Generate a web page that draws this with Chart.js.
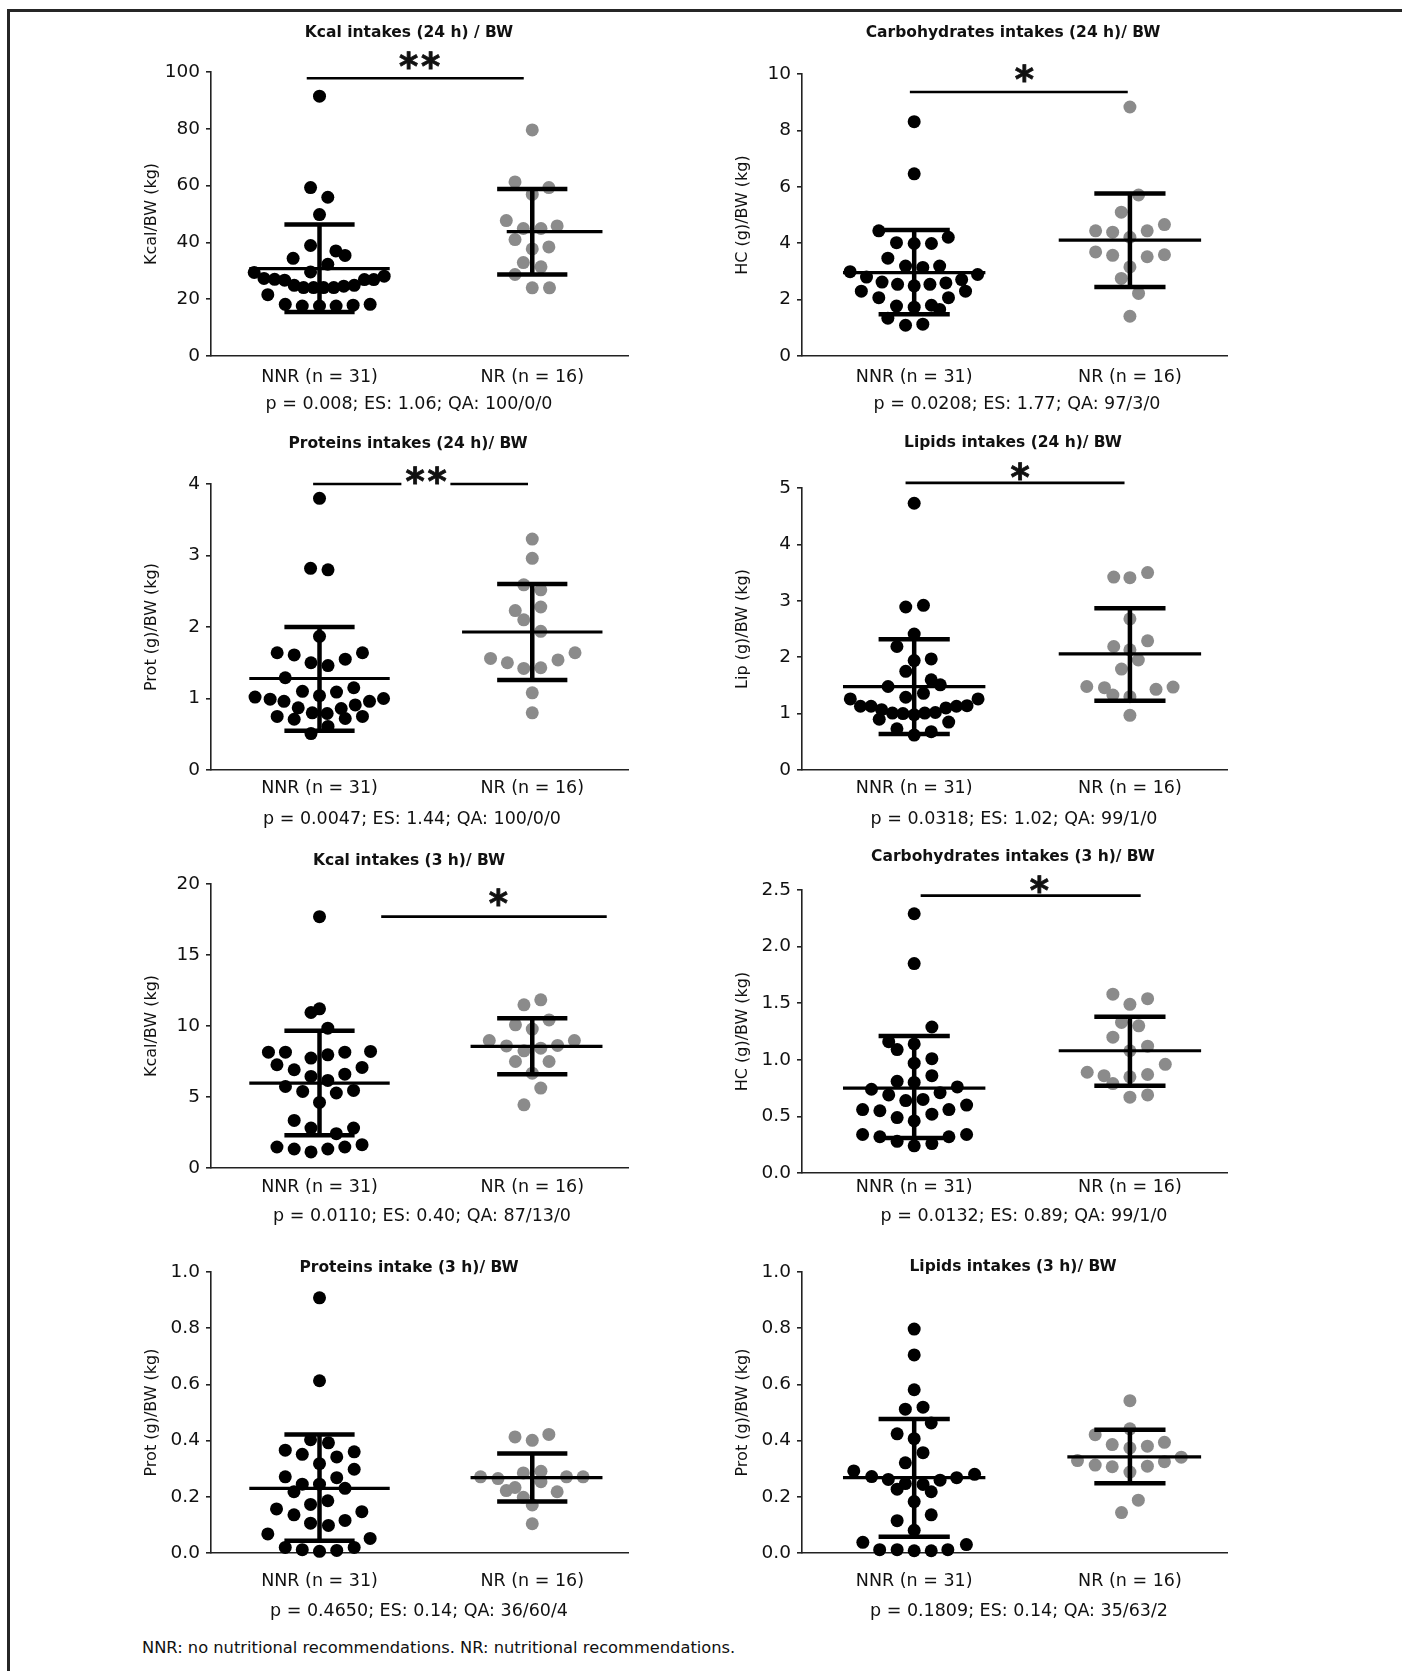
<!DOCTYPE html>
<html lang="en">
<head>
  <meta charset="UTF-8">
  <title>Intakes per body weight: NNR vs NR</title>
  <script src="https://cdn.jsdelivr.net/npm/chart.js"></script>
  <style>
    body { margin: 0; background: #fff; }
    #page {
      position: relative; width: 1402px; height: 1671px; overflow: hidden;
      font-family: 'DejaVu Sans', sans-serif; color: #111;
    }
    #frame {
      position: absolute; left: 7px; top: 9px; right: -20px; bottom: -20px;
      border-top: 3px solid #262626; border-left: 3px solid #262626;
    }
    canvas { position: absolute; }
    .title, .stat { position: absolute; transform: translate(-50%, -50%); white-space: nowrap; }
    .title { font-weight: bold; font-size: 15.5px; }
    .stat { font-size: 17.5px; }
    .note { position: absolute; left: 142px; top: 1647px; transform: translateY(-50%); font-size: 16.3px; white-space: nowrap; }
  </style>
</head>
<body>
<div id="page">
  <div id="frame"></div>
  <div class="note">NNR: no nutritional recommendations. NR: nutritional recommendations.</div>
</div>

<script>
  const groups = ['NNR (n = 31)', 'NR (n = 16)'];

  // every point: [horizontal jitter from group centre, value]
  // bars: [mean, mean - SD, mean + SD] for NNR, then NR
  // sig: [x from, x to, y]   star: [x, y]

  const kcal24NNR = [
    [0, 91.5], [-0.042, 59.3], [0.039, 55.9], [0, 49.8], [-0.042, 38.9], [-0.124, 34.4], [0.077, 37.0], [0.120, 35.4], [0.039, 32.3], [-0.042, 29.6],
    [-0.307, 29.4], [-0.261, 27.3], [-0.211, 27.0], [-0.164, 26.7], [-0.119, 24.9], [-0.075, 24.1], [-0.028, 24.1], [0.019, 24.1], [0.067, 24.1], [0.114, 24.6],
    [0.163, 24.9], [0.211, 26.9], [0.255, 26.9], [0.304, 28.1], [-0.243, 21.6], [-0.161, 18.2], [-0.081, 17.6], [0, 17.6], [0.078, 17.6], [0.158, 17.9], [0.238, 18.2]
  ];
  const kcal24NR = [
    [0, 79.6], [-0.081, 61.3], [0.078, 59.3], [0, 56.9], [-0.122, 47.7], [-0.042, 44.9], [0.041, 44.9], [0.117, 45.8], [-0.081, 41.0], [0, 37.7],
    [0.078, 38.4], [-0.042, 32.9], [0.041, 31.4], [-0.081, 28.7], [0, 24.0], [0.081, 24.0]
  ];
  const kcal24Bars = [[30.8, 15.5, 46.3], [43.8, 28.7, 58.8]];
  const kcal24Sig = [0.94, 1.96, 97.8];
  const kcal24Star = [1.47, 104.2];

  const carb24NNR = [
    [0, 8.31], [0, 6.46], [-0.164, 4.44], [-0.082, 4.02], [0, 3.99], [0.080, 3.99], [0.158, 4.21], [-0.122, 3.47], [-0.040, 3.19], [0.040, 3.14],
    [0.118, 3.19], [-0.297, 2.99], [0.294, 2.89], [-0.221, 2.80], [-0.149, 2.62], [-0.077, 2.54], [0, 2.49], [0.073, 2.54], [0.147, 2.59], [0.220, 2.71],
    [-0.245, 2.30], [0.238, 2.30], [-0.164, 2.07], [0.159, 2.07], [-0.082, 1.77], [0, 1.73], [0.080, 1.80], [0.118, 1.65], [-0.122, 1.34], [-0.040, 1.09], [0.040, 1.13]
  ];
  const carb24NR = [
    [0, 8.83], [0.040, 5.71], [-0.040, 5.10], [-0.159, 4.44], [-0.080, 4.39], [0, 4.21], [0.080, 4.44], [0.160, 4.66], [-0.159, 3.69], [-0.080, 3.57],
    [0.080, 3.52], [0.160, 3.59], [0, 3.16], [-0.040, 2.75], [0.040, 2.22], [0, 1.41]
  ];
  const carb24Bars = [[2.96, 1.48, 4.47], [4.11, 2.45, 5.76]];
  const carb24Sig = [0.98, 1.99, 9.36];
  const carb24Star = [1.51, 10.04];

  const prot24NNR = [
    [0, 3.80], [-0.042, 2.82], [0.040, 2.80], [0, 1.87], [-0.199, 1.64], [-0.119, 1.61], [-0.040, 1.50], [0.040, 1.46], [0.121, 1.55], [0.202, 1.64],
    [-0.161, 1.29], [-0.303, 1.02], [-0.232, 0.99], [-0.167, 0.96], [-0.080, 1.10], [0, 1.04], [0.080, 1.09], [0.161, 1.15], [0.235, 0.96], [0.301, 1.00],
    [-0.100, 0.87], [-0.034, 0.80], [0.036, 0.79], [0.102, 0.86], [0.168, 0.91], [-0.199, 0.75], [-0.119, 0.71], [0.121, 0.72], [0.202, 0.75], [0.040, 0.61], [-0.040, 0.51]
  ];
  const prot24NR = [
    [0, 3.23], [0, 2.96], [-0.040, 2.59], [0.040, 2.52], [-0.080, 2.23], [0.040, 2.28], [-0.040, 2.10], [0.040, 1.94], [-0.196, 1.56], [-0.117, 1.50],
    [-0.040, 1.42], [0.040, 1.43], [0.121, 1.54], [0.201, 1.64], [0, 1.08], [0, 0.80]
  ];
  const prot24Bars = [[1.28, 0.55, 2.00], [1.93, 1.26, 2.60]];
  const prot24Sig = [0.97, 1.98, 4.0];
  const prot24Star = [1.50, 4.12];

  const lip24NNR = [
    [0, 4.73], [-0.039, 2.89], [0.043, 2.92], [0, 2.41], [-0.080, 2.19], [0, 1.94], [0.079, 1.97], [-0.039, 1.75], [0.079, 1.60], [0.121, 1.51],
    [-0.121, 1.48], [0.043, 1.36], [-0.039, 1.29], [-0.296, 1.26], [0.296, 1.26], [-0.249, 1.13], [-0.200, 1.13], [-0.151, 1.07], [-0.101, 1.01], [-0.052, 1.00],
    [0, 0.98], [0.049, 1.01], [0.098, 1.02], [0.147, 1.10], [0.196, 1.13], [0.245, 1.14], [-0.162, 0.90], [0.160, 0.85], [-0.080, 0.73], [0.079, 0.68], [0, 0.62]
  ];
  const lip24NR = [
    [-0.075, 3.42], [0, 3.41], [0.082, 3.50], [0, 2.68], [-0.075, 2.19], [0.082, 2.29], [0, 2.13], [0.039, 1.95], [-0.039, 1.79], [-0.200, 1.48],
    [-0.118, 1.46], [-0.079, 1.33], [0, 1.30], [0.121, 1.43], [0.200, 1.47], [0, 0.97]
  ];
  const lip24Bars = [[1.48, 0.64, 2.32], [2.06, 1.23, 2.87]];
  const lip24Sig = [0.96, 1.975, 5.09];
  const lip24Star = [1.49, 5.30];

  const kcal3NNR = [
    [0, 17.70], [-0.040, 10.95], [0, 11.21], [0.039, 9.85], [-0.240, 8.16], [-0.160, 8.16], [-0.040, 7.74], [0.039, 7.97], [0.119, 8.16], [0.240, 8.21],
    [-0.200, 7.27], [-0.119, 6.92], [0.200, 7.08], [-0.040, 6.45], [0.039, 6.17], [0.119, 6.61], [-0.160, 5.74], [-0.079, 5.39], [0.079, 5.28], [0.160, 5.46],
    [0, 4.62], [-0.119, 3.35], [-0.040, 2.81], [0.160, 2.81], [0.079, 2.42], [-0.200, 1.48], [-0.119, 1.34], [-0.040, 1.13], [0.039, 1.34], [0.119, 1.48], [0.200, 1.64]
  ];
  const kcal3NR = [
    [0.040, 11.84], [-0.039, 11.49], [-0.079, 10.08], [0.079, 10.43], [0, 9.78], [-0.202, 8.98], [-0.121, 8.60], [-0.039, 8.25], [0.040, 8.44], [0.119, 8.63],
    [0.198, 8.98], [-0.079, 7.50], [0.079, 7.50], [0, 6.68], [0.040, 5.63], [-0.039, 4.45]
  ];
  const kcal3Bars = [[5.98, 2.30, 9.66], [8.56, 6.61, 10.55]];
  const kcal3Sig = [1.29, 2.35, 17.7];
  const kcal3Star = [1.84, 19.1];

  const carb3NNR = [
    [0, 2.29], [0, 1.85], [0.082, 1.29], [-0.118, 1.16], [-0.079, 1.09], [0, 1.14], [0, 0.97], [0.082, 1.01], [0.082, 0.86], [-0.079, 0.81],
    [0, 0.80], [-0.198, 0.74], [0.200, 0.76], [-0.118, 0.69], [0.120, 0.71], [-0.039, 0.64], [0.041, 0.65], [-0.239, 0.56], [-0.159, 0.55], [0.161, 0.56],
    [0.243, 0.60], [-0.079, 0.49], [0.082, 0.52], [0, 0.46], [-0.239, 0.34], [-0.159, 0.32], [-0.079, 0.28], [0, 0.24], [0.082, 0.26], [0.161, 0.32], [0.243, 0.34]
  ];
  const carb3NR = [
    [-0.079, 1.58], [0.082, 1.54], [0, 1.49], [-0.039, 1.33], [0.041, 1.30], [-0.079, 1.20], [0.082, 1.12], [0, 1.08], [0.164, 0.96], [-0.198, 0.89],
    [-0.120, 0.86], [0, 0.85], [0.082, 0.87], [-0.079, 0.79], [0, 0.67], [0.082, 0.69]
  ];
  const carb3Bars = [[0.75, 0.31, 1.21], [1.08, 0.77, 1.38]];
  const carb3Sig = [1.03, 2.05, 2.45];
  const carb3Star = [1.58, 2.55];

  const prot3NNR = [
    [0, 0.908], [0, 0.613], [-0.042, 0.403], [0.042, 0.392], [-0.161, 0.366], [-0.081, 0.351], [0.081, 0.342], [0.163, 0.360], [0, 0.318], [-0.161, 0.271],
    [0.081, 0.268], [0.163, 0.298], [-0.081, 0.245], [0, 0.245], [-0.120, 0.218], [0.120, 0.230], [-0.042, 0.173], [0.039, 0.186], [-0.202, 0.157], [-0.120, 0.136],
    [0.199, 0.147], [-0.042, 0.106], [0.042, 0.098], [0.120, 0.116], [-0.243, 0.068], [0.238, 0.052], [-0.161, 0.020], [-0.081, 0.012], [0, 0.006], [0.081, 0.009], [0.163, 0.020]
  ];
  const prot3NR = [
    [-0.081, 0.413], [0, 0.401], [0.078, 0.422], [-0.243, 0.271], [-0.161, 0.265], [-0.042, 0.285], [0.041, 0.291], [0.041, 0.254], [0.161, 0.271], [0.239, 0.271],
    [-0.122, 0.222], [-0.081, 0.233], [-0.042, 0.198], [0.117, 0.218], [0, 0.171], [0, 0.104]
  ];
  const prot3Bars = [[0.230, 0.044, 0.422], [0.268, 0.183, 0.354]];

  const lip3NNR = [
    [0, 0.797], [0, 0.705], [0, 0.581], [-0.041, 0.512], [0.041, 0.519], [0.079, 0.463], [-0.079, 0.424], [0, 0.407], [0.041, 0.357], [-0.041, 0.321],
    [-0.280, 0.292], [-0.197, 0.272], [-0.120, 0.262], [-0.041, 0.247], [0.041, 0.244], [0.120, 0.259], [0.197, 0.268], [0.280, 0.280], [-0.079, 0.227], [0.079, 0.218],
    [0, 0.183], [0.079, 0.136], [-0.079, 0.115], [0, 0.081], [-0.238, 0.038], [0.242, 0.030], [-0.160, 0.012], [-0.079, 0.012], [0, 0.008], [0.079, 0.008], [0.156, 0.012]
  ];
  const lip3NR = [
    [0, 0.542], [0, 0.442], [-0.161, 0.421], [-0.082, 0.386], [0, 0.374], [0.081, 0.380], [0.160, 0.394], [-0.243, 0.329], [-0.161, 0.313], [-0.082, 0.307],
    [0.081, 0.309], [0.160, 0.325], [0.238, 0.341], [0, 0.288], [0.039, 0.188], [-0.039, 0.144]
  ];
  const lip3Bars = [[0.268, 0.058, 0.477], [0.342, 0.248, 0.439]];

  // layout
  const COLS = {
    L: { left: 130, width: 510, padR: 12, xMin: 0.49 },
    R: { left: 721, width: 519, padR: 13, xMin: 0.48 }
  };
  const X_MAX = 2.45, Y_SCALE_W = 81, PAD_TOP = 40, X_SCALE_H = 50;
  const CAP = 0.165, MEAN_HALF = 0.33;
  const GREY = '#8b8b8b', INK = '#111';

  const panels = [
    { col: 'L', top: 72, bottom: 356, yMax: 100, step: 20, dec: 0, yTitle: 'Kcal/BW (kg)',
      title: 'Kcal intakes (24 h) / BW', titleAt: [409, 32],
      stat: 'p = 0.008; ES: 1.06; QA: 100/0/0', statAt: [409, 403], labelPad: 11,
      nnr: kcal24NNR, nr: kcal24NR, bars: kcal24Bars, sig: kcal24Sig, star: kcal24Star, stars: '**', nrMeanLeft: -0.12 },
    { col: 'R', top: 74, bottom: 356, yMax: 10, step: 2, dec: 0, yTitle: 'HC (g)/BW (kg)',
      title: 'Carbohydrates intakes (24 h)/ BW', titleAt: [1013, 32],
      stat: 'p = 0.0208; ES: 1.77; QA: 97/3/0', statAt: [1017, 403], labelPad: 11,
      nnr: carb24NNR, nr: carb24NR, bars: carb24Bars, sig: carb24Sig, star: carb24Star, stars: '*' },
    { col: 'L', top: 484, bottom: 770, yMax: 4, step: 1, dec: 0, yTitle: 'Prot (g)/BW (kg)',
      title: 'Proteins intakes (24 h)/ BW', titleAt: [408, 443],
      stat: 'p = 0.0047; ES: 1.44; QA: 100/0/0', statAt: [412, 818], labelPad: 8,
      nnr: prot24NNR, nr: prot24NR, bars: prot24Bars, sig: prot24Sig, star: prot24Star, stars: '**', knockout: true },
    { col: 'R', top: 488, bottom: 770, yMax: 5, step: 1, dec: 0, yTitle: 'Lip (g)/BW (kg)',
      title: 'Lipids intakes (24 h)/ BW', titleAt: [1013, 442],
      stat: 'p = 0.0318; ES: 1.02; QA: 99/1/0', statAt: [1014, 818], labelPad: 8,
      nnr: lip24NNR, nr: lip24NR, bars: lip24Bars, sig: lip24Sig, star: lip24Star, stars: '*' },
    { col: 'L', top: 884, bottom: 1168, yMax: 20, step: 5, dec: 0, yTitle: 'Kcal/BW (kg)',
      title: 'Kcal intakes (3 h)/ BW', titleAt: [409, 860],
      stat: 'p = 0.0110; ES: 0.40; QA: 87/13/0', statAt: [422, 1215], labelPad: 9,
      nnr: kcal3NNR, nr: kcal3NR, bars: kcal3Bars, sig: kcal3Sig, star: kcal3Star, stars: '*', nrMeanLeft: -0.29 },
    { col: 'R', top: 890, bottom: 1173, yMax: 2.5, step: 0.5, dec: 1, yTitle: 'HC (g)/BW (kg)',
      title: 'Carbohydrates intakes (3 h)/ BW', titleAt: [1013, 856],
      stat: 'p = 0.0132; ES: 0.89; QA: 99/1/0', statAt: [1024, 1215], labelPad: 4,
      nnr: carb3NNR, nr: carb3NR, bars: carb3Bars, sig: carb3Sig, star: carb3Star, stars: '*' },
    { col: 'L', top: 1272, bottom: 1553, yMax: 1, step: 0.2, dec: 1, yTitle: 'Prot (g)/BW (kg)',
      title: 'Proteins intake (3 h)/ BW', titleAt: [409, 1267],
      stat: 'p = 0.4650; ES: 0.14; QA: 36/60/4', statAt: [419, 1610], labelPad: 18,
      nnr: prot3NNR, nr: prot3NR, bars: prot3Bars, nrMeanLeft: -0.29 },
    { col: 'R', top: 1272, bottom: 1553, yMax: 1, step: 0.2, dec: 1, yTitle: 'Prot (g)/BW (kg)',
      title: 'Lipids intakes (3 h)/ BW', titleAt: [1013, 1266],
      stat: 'p = 0.1809; ES: 0.14; QA: 35/63/2', statAt: [1019, 1610], labelPad: 18,
      nnr: lip3NNR, nr: lip3NR, bars: lip3Bars, nrMeanLeft: -0.29 }
  ];

  Chart.defaults.font.family = "'DejaVu Sans', sans-serif";
  Chart.defaults.color = INK;

  // asterisks above the significance bars
  const starsPlugin = {
    id: 'stars',
    afterDatasetsDraw(chart, args, opts) {
      if (!opts || !opts.text) return;
      const ctx = chart.ctx;
      const px = chart.scales.x.getPixelForValue(opts.x);
      const py = chart.scales.y.getPixelForValue(opts.y);
      ctx.save();
      ctx.font = "bold 100px 'DejaVu Sans'";
      const m0 = ctx.measureText('*');
      const size = 100 * 18 / (m0.actualBoundingBoxLeft + m0.actualBoundingBoxRight);
      ctx.font = `bold ${size}px 'DejaVu Sans'`;
      const m = ctx.measureText('*');
      const w = m.actualBoundingBoxLeft + m.actualBoundingBoxRight;
      const h = m.actualBoundingBoxAscent + m.actualBoundingBoxDescent;
      const n = opts.text.length, gap = 22;
      if (opts.knockout) {
        ctx.fillStyle = '#fff';
        ctx.fillRect(px - (n - 1) * gap / 2 - w / 2 - 4, py - h / 2 - 2, (n - 1) * gap + w + 8, h + 8);
      }
      ctx.fillStyle = INK;
      ctx.strokeStyle = INK;
      ctx.lineWidth = 0.8;
      ctx.textAlign = 'left';
      ctx.textBaseline = 'alphabetic';
      for (let i = 0; i < n; i++) {
        const cx = px + (i - (n - 1) / 2) * gap;
        const tx = cx - w / 2 + m.actualBoundingBoxLeft;
        const ty = py + (m.actualBoundingBoxAscent - m.actualBoundingBoxDescent) / 2;
        ctx.fillText('*', tx, ty);
        ctx.strokeText('*', tx, ty);
      }
      ctx.restore();
    }
  };

  function seg(x1, y1, x2, y2, w) {
    return {
      data: [{ x: x1, y: y1 }, { x: x2, y: y2 }],
      showLine: true, borderColor: '#000', borderWidth: w,
      pointRadius: 0, clip: false, order: 0
    };
  }

  function errorBars(c, bars, meanLeft) {
    const [mean, lo, hi] = bars;
    return [
      seg(c + meanLeft, mean, c + MEAN_HALF, mean, 3.2),
      seg(c, lo, c, hi, 4.5),
      seg(c - CAP, hi, c + CAP, hi, 4.5),
      seg(c - CAP, lo, c + CAP, lo, 4.5)
    ];
  }

  function dots(c, pts, color) {
    return {
      data: pts.map(([dx, v]) => ({ x: c + dx, y: v })),
      pointRadius: 6.5, pointBackgroundColor: color, pointBorderWidth: 0,
      backgroundColor: color, borderColor: color, clip: false, order: 1
    };
  }

  const page = document.getElementById('page');

  panels.forEach(p => {
    const col = COLS[p.col];
    const canvas = document.createElement('canvas');
    const h = p.bottom - p.top + PAD_TOP + X_SCALE_H;
    canvas.width = col.width;
    canvas.height = h;
    canvas.style.left = col.left + 'px';
    canvas.style.top = (p.top - PAD_TOP) + 'px';
    page.appendChild(canvas);

    const datasets = [];
    if (p.sig) datasets.push(seg(p.sig[0], p.sig[2], p.sig[1], p.sig[2], 2.6));
    datasets.push(...errorBars(1, p.bars[0], -MEAN_HALF));
    datasets.push(...errorBars(2, p.bars[1], p.nrMeanLeft !== undefined ? p.nrMeanLeft : -MEAN_HALF));
    datasets.push(dots(1, p.nnr, '#000'));
    datasets.push(dots(2, p.nr, GREY));

    new Chart(canvas, {
      type: 'scatter',
      data: { datasets },
      plugins: [starsPlugin],
      options: {
        responsive: false,
        animation: false,
        events: [],
        layout: { padding: { left: 0, right: col.padR, top: PAD_TOP, bottom: 0 } },
        plugins: {
          legend: { display: false },
          tooltip: { enabled: false },
          stars: p.star ? { text: p.stars, x: p.star[0], y: p.star[1], knockout: !!p.knockout } : {}
        },
        scales: {
          x: {
            type: 'linear', min: col.xMin, max: X_MAX,
            afterFit: s => { s.height = X_SCALE_H; },
            afterBuildTicks: s => { s.ticks = [{ value: 1 }, { value: 2 }]; },
            grid: { display: false, drawTicks: false },
            border: { display: true, color: '#222', width: 1.6 },
            ticks: {
              autoSkip: false, maxRotation: 0, minRotation: 0, padding: p.labelPad,
              color: INK, font: { size: 17.5 },
              callback: v => groups[v - 1]
            }
          },
          y: {
            min: 0, max: p.yMax,
            afterFit: s => { s.width = Y_SCALE_W; },
            grid: { display: true, drawOnChartArea: false, drawTicks: true, tickLength: 5, color: '#222', lineWidth: 1.6 },
            border: { display: true, color: '#222', width: 1.6 },
            ticks: {
              stepSize: p.step, padding: 6, color: INK, font: { size: 18.5 },
              callback: v => Number(v).toFixed(p.dec)
            },
            title: {
              display: true, text: p.yTitle, color: INK,
              font: { size: 16 }, padding: { top: 12, bottom: 0 }
            }
          }
        }
      }
    });

    const t = document.createElement('div');
    t.className = 'title';
    t.textContent = p.title;
    t.style.left = p.titleAt[0] + 'px';
    t.style.top = p.titleAt[1] + 'px';
    page.appendChild(t);

    const s = document.createElement('div');
    s.className = 'stat';
    s.textContent = p.stat;
    s.style.left = p.statAt[0] + 'px';
    s.style.top = p.statAt[1] + 'px';
    page.appendChild(s);
  });
</script>
</body>
</html>
